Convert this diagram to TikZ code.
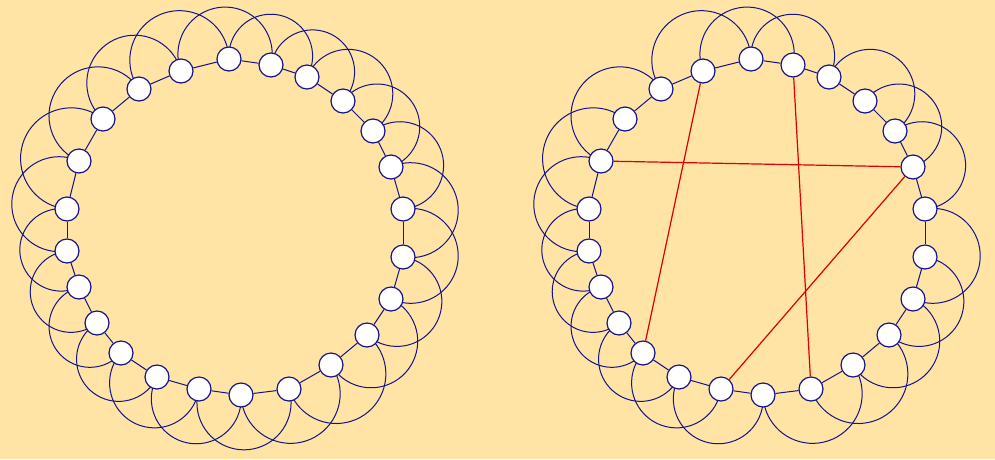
\documentclass[tikz,border=0pt]{standalone}
\usetikzlibrary{calc}
\definecolor{bgc}{RGB}{255,228,166}
\definecolor{nv}{RGB}{20,20,135}
\definecolor{rd}{RGB}{220,0,0}
\pgfdeclarelayer{back}
\pgfdeclarelayer{edges}
\pgfsetlayers{back,edges,main}
\begin{document}
\begin{tikzpicture}[x=1pt,y=1pt,
  vtx/.style={circle,draw=nv,fill=white,line width=1.2pt,minimum size=24pt,inner sep=0pt},
  ring/.style={draw=nv,line width=1pt},
  hop/.style={draw=nv,line width=1pt},
  rew/.style={draw=rd,line width=1.2pt}]
\begin{pgfonlayer}{back}
\fill[bgc] (0,0) rectangle (995,-459);
\end{pgfonlayer}
\useasboundingbox (0,0) rectangle (995,-459);
\foreach \g/\cx in {L/235,R/757}{
  \foreach[count=\i from 0] \dx/\dy in {-6/-168, 36/-162, 72/-150, 108/-126, 138/-96, 156/-60, 168/-18, 168/30, 156/72, 132/108, 96/138, 54/162, 6/168, -36/162, -78/150, -114/126, -138/96, -156/60, -168/24, -168/-18, -156/-66, -132/-108, -96/-138, -54/-156}{
    \pgfmathsetmacro\px{\cx+\dx}
    \pgfmathsetmacro\py{-227-\dy}
    \node[vtx] (\g\i) at (\px,\py) {};
  }
}
\begin{pgfonlayer}{edges}
\foreach \g in {L,R}{
  \foreach \i in {0,...,23}{
    \pgfmathtruncatemacro\j{mod(\i+1,24)}
    \draw[ring] (\g\i) -- (\g\j);
  }
}
\foreach \g/\lst in {L/{0,1,2,3,4,5,6,7,8,9,10,11,12,13,14,15,16,17,18,19,20,21,22,23},R/{0,2,3,4,6,7,8,9,10,12,13,14,15,16,17,18,19,20,22,23}}{
  \foreach \i in \lst{
    \pgfmathtruncatemacro\k{mod(\i+2,24)}
    \draw[hop] let \p1=(\g\i.center), \p2=(\g\k.center),
      \n1={atan2(\y2-\y1,\x2-\x1)},
      \n2={veclen(\x2-\x1,\y2-\y1)/(2*sin(107))} in
      (\p1) arc[start angle=\n1-163, end angle=\n1-377, radius=\n2];
  }
}
\draw[rew] (R20) -- (R5);
\draw[rew] (R23) -- (R15);
\draw[rew] (R1) -- (R11);
\draw[rew] (R5) -- (R13);
\end{pgfonlayer}
\end{tikzpicture}
\end{document}
